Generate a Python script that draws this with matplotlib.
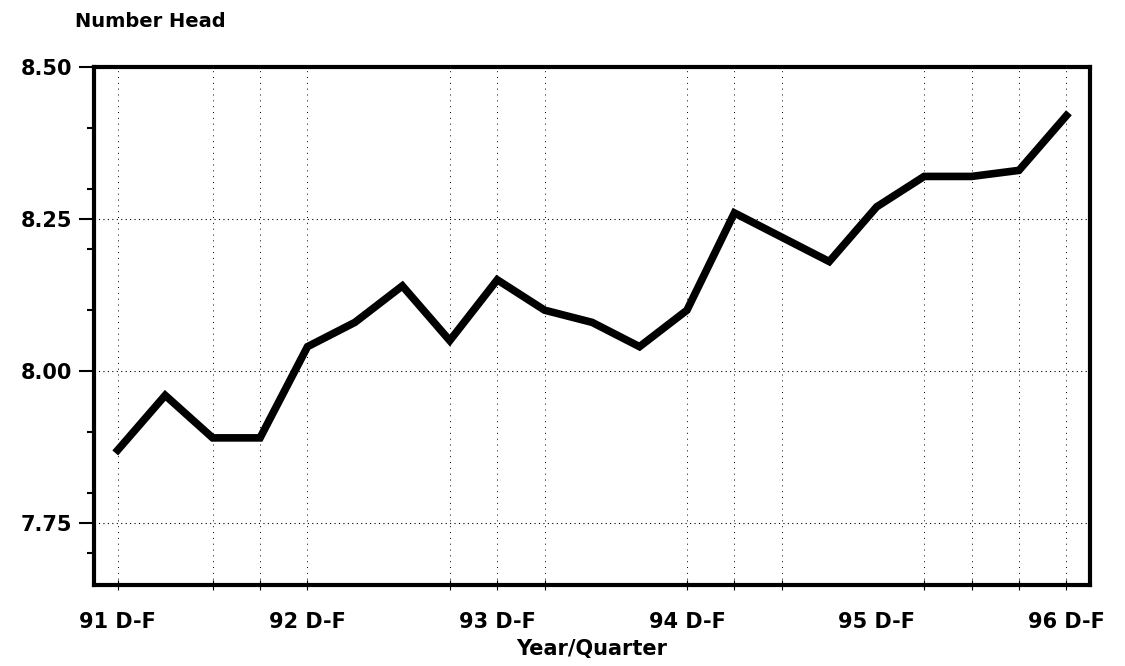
import matplotlib
import matplotlib.pyplot as plt
import numpy as np
from matplotlib.ticker import MultipleLocator

matplotlib.use("Agg")

plt.rcParams['font.family'] = ['DejaVu Sans']

# quarterly head counts, 91 D-F .. 96 D-F
quarter_labels = ["91 D-F", "92 D-F", "93 D-F", "94 D-F", "95 D-F", "96 D-F"]
head = [7.87, 7.96, 7.89, 7.89, 8.04, 8.08, 8.14, 8.05, 8.15, 8.10, 8.08,
        8.04, 8.10, 8.26, 8.22, 8.18, 8.27, 8.32, 8.32, 8.33, 8.42]
# quarters that carry a vertical grid line in the original
grid_quarters = [0, 2, 3, 4, 7, 8, 9, 12, 13, 14, 17, 18, 19, 20]
y_ticks = [7.75, 8.00, 8.25, 8.50]

x = np.arange(len(head))
label_pos = list(x[::4])

fig = plt.figure(figsize=(11.25, 6.66), dpi=100)
ax = fig.add_axes([0.0836, 0.1216, 0.8854, 0.7778])

for q in grid_quarters:
    ax.axvline(q, color='black', lw=0.7, ls=(0, (1, 5)), zorder=1)
for yt in y_ticks[:-1]:
    ax.axhline(yt, color='black', lw=0.8, ls=(0, (1, 3)), zorder=1)

ax.plot(x, head, color='black', lw=5.5, solid_joinstyle='miter', zorder=3)

ax.set_xlim(-0.5, 20.5)
ax.set_ylim(7.648, 8.50)

ax.set_yticks(y_ticks)
ax.set_yticklabels([f"{v:.2f}" for v in y_ticks])
ax.yaxis.set_minor_locator(MultipleLocator(0.1))
ax.tick_params(axis='y', which='major', direction='out', length=11, width=1.5,
               labelsize=15, pad=5)
ax.tick_params(axis='y', which='minor', direction='out', length=5, width=1.5)

# small marks where the grid lines are, labels every four quarters
xt = sorted(set(grid_quarters) | set(label_pos))
ax.set_xticks(xt)
ax.set_xticklabels([quarter_labels[label_pos.index(q)] if q in label_pos else ""
                    for q in xt])
ax.tick_params(axis='x', which='major', direction='inout', length=7,
               width=0.8, labelsize=15, pad=16)
for q, tick in zip(xt, ax.xaxis.get_major_ticks()):
    if q not in grid_quarters:
        tick.tick1line.set_visible(False)
for lab in ax.get_xticklabels() + ax.get_yticklabels():
    lab.set_fontweight('bold')

for s in ax.spines.values():
    s.set_linewidth(3)

ax.set_xlabel("Year/Quarter", fontsize=15, fontweight='bold', labelpad=5)
fig.text(0.067, 0.967, "Number Head", fontsize=14, fontweight='bold',
         ha='left', va='center')

fig.savefig("out.png", dpi=100)
